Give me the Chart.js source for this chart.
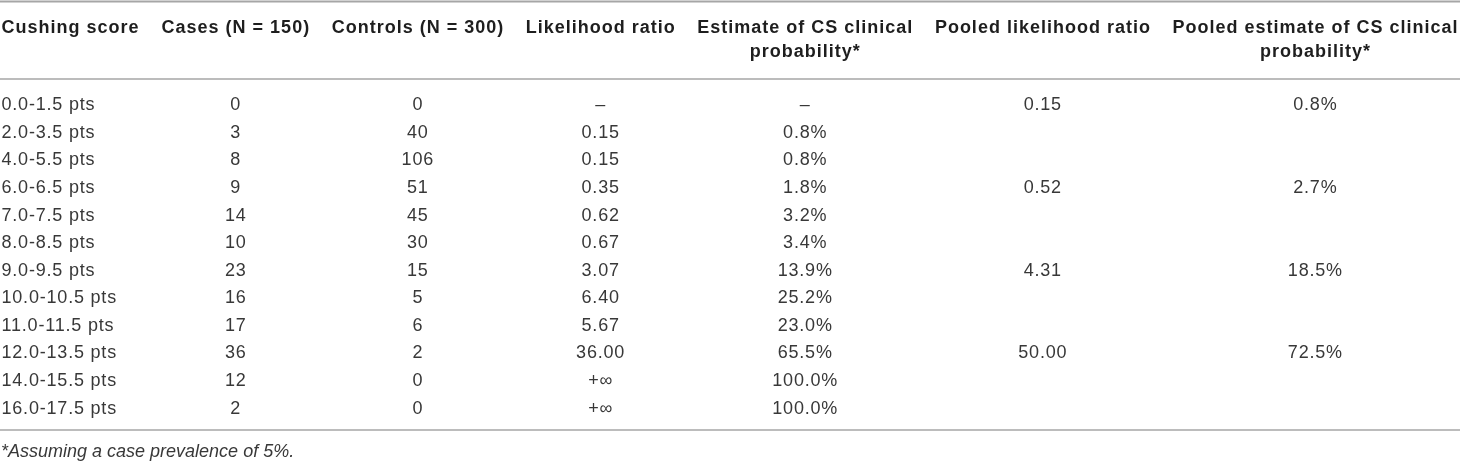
<!DOCTYPE html>
<html>
<head>
<meta charset="utf-8">
<title>Cushing score likelihood ratios</title>
<script src="https://cdn.jsdelivr.net/npm/chart.js@4.4.1/dist/chart.umd.min.js"></script>
<style>
  html, body { margin: 0; padding: 0; background: #ffffff; }
  canvas { display: block; }
</style>
</head>
<body>
<canvas id="table" width="1460" height="461"></canvas>
<script>
// Table data, one array per column
const scores = ["0.0-1.5 pts", "2.0-3.5 pts", "4.0-5.5 pts", "6.0-6.5 pts", "7.0-7.5 pts", "8.0-8.5 pts",
  "9.0-9.5 pts", "10.0-10.5 pts", "11.0-11.5 pts", "12.0-13.5 pts", "14.0-15.5 pts", "16.0-17.5 pts"];
const cases = [0, 3, 8, 9, 14, 10, 23, 16, 17, 36, 12, 2];
const controls = [0, 40, 106, 51, 45, 30, 15, 5, 6, 2, 0, 0];
const likelihoodRatio = [null, 0.15, 0.15, 0.35, 0.62, 0.67, 3.07, 6.40, 5.67, 36.00, Infinity, Infinity];
const estimate = [null, 0.8, 0.8, 1.8, 3.2, 3.4, 13.9, 25.2, 23.0, 65.5, 100.0, 100.0];
const pooledLikelihoodRatio = [0.15, null, null, 0.52, null, null, 4.31, null, null, 50.00, null, null];
const pooledEstimate = [0.8, null, null, 2.7, null, null, 18.5, null, null, 72.5, null, null];
const headers = [
  ["Cushing score"],
  ["Cases (N = 150)"],
  ["Controls (N = 300)"],
  ["Likelihood ratio"],
  ["Estimate of CS clinical", "probability*"],
  ["Pooled likelihood ratio"],
  ["Pooled estimate of CS clinical", "probability*"],
];
const footnote = "*Assuming a case prevalence of 5%.";

// Formatting
const fmtText = (v) => v;
const fmtCount = (v) => String(v);
const fmtRatio = (v) => (v === null ? "\u2013" : v === Infinity ? "+\u221e" : v.toFixed(2));
const fmtPct = (v) => (v === null ? "\u2013" : v.toFixed(1) + "%");
const blankIfNull = (fmt) => (v) => (v === null ? "" : fmt(v));

const columns = [
  { values: scores, fmt: fmtText, align: "left" },
  { values: cases, fmt: fmtCount, align: "center" },
  { values: controls, fmt: fmtCount, align: "center" },
  { values: likelihoodRatio, fmt: fmtRatio, align: "center" },
  { values: estimate, fmt: fmtPct, align: "center" },
  { values: pooledLikelihoodRatio, fmt: blankIfNull(fmtRatio), align: "center" },
  { values: pooledEstimate, fmt: blankIfNull(fmtPct), align: "center" },
];

// Styles
const FAMILY = '"Liberation Sans", Arial, Helvetica, sans-serif';
const headFont = `bold 18px ${FAMILY}`;
const cellFont = `18px ${FAMILY}`;
const noteFont = `italic 18px ${FAMILY}`;
const headSpacing = 1; // letter spacing, px
const cellSpacing = 0.8;
const capHalf = 6.4; // half cap height at 18px
const ruleColor = "#a6a6a6";
const canvas = document.getElementById("table");

// Column widths like an auto table: widest text, spare room shared as gaps
const measureCtx = document.createElement("canvas").getContext("2d");
const textWidth = (text, font, spacing = 0) => {
  measureCtx.font = font;
  return measureCtx.measureText(text).width + spacing * text.length;
};
const colWidths = columns.map((col, c) => {
  const head = Math.max(...headers[c].map((t) => textWidth(t, headFont, headSpacing)));
  const cells = Math.max(...col.values.map((v) => textWidth(col.fmt(v), cellFont, cellSpacing)));
  return Math.max(head, cells);
});
const tableLeft = 1.5;
const tableRight = canvas.width - 2;
const gap = (tableRight - tableLeft - colWidths.reduce((a, b) => a + b, 0)) / (columns.length - 1);
const colStarts = [];
colWidths.reduce((x, w) => { colStarts.push(x); return x + w + gap; }, tableLeft);
const colAnchor = columns.map((col, c) => (col.align === "left" ? colStarts[c] : colStarts[c] + colWidths[c] / 2));

// Draws the rules, header, cells and footnote from the scale positions
const tablePlugin = {
  id: "tableText",
  afterDatasetsDraw(chart) {
    const ctx = chart.ctx;
    const area = chart.chartArea;
    ctx.save();

    const rule = (y, w) => {
      ctx.strokeStyle = ruleColor;
      ctx.lineWidth = w;
      ctx.beginPath();
      ctx.moveTo(0, y);
      ctx.lineTo(chart.width, y);
      ctx.stroke();
    };
    rule(area.top - 88.5, 2);
    rule(area.top - 11, 1.5);
    rule(area.bottom + 9, 1.5);

    // spaced text leaves a trailing gap, so centred text is nudged by half of it
    const nudge = (c, spacing) => (columns[c].align === "left" ? 0 : spacing / 2);

    // header
    ctx.font = headFont;
    ctx.fillStyle = "#1e1e1e";
    ctx.textBaseline = "alphabetic";
    ctx.letterSpacing = headSpacing + "px";
    headers.forEach((lines, c) => {
      ctx.textAlign = columns[c].align;
      lines.forEach((line, i) => ctx.fillText(line, colAnchor[c] + nudge(c, headSpacing), area.top - 57 + i * 24));
    });

    // cells
    ctx.font = cellFont;
    ctx.fillStyle = "#383838";
    ctx.letterSpacing = cellSpacing + "px";
    chart.data.datasets.forEach((ds, c) => {
      ctx.textAlign = columns[c].align;
      chart.getDatasetMeta(c).data.forEach((pt, r) => {
        ctx.fillText(ds.data[r].text, pt.x + nudge(c, cellSpacing), pt.y + capHalf);
      });
    });
    ctx.letterSpacing = "0px";

    // footnote
    ctx.font = noteFont;
    ctx.textAlign = "left";
    ctx.fillText(footnote, tableLeft - 0.5, area.bottom + 36);
    ctx.restore();
  },
};

const tableChart = new Chart(canvas, {
  type: "scatter",
  data: {
    datasets: columns.map((col, c) => ({
      label: headers[c].join(" "),
      data: col.values.map((v, r) => ({ x: colAnchor[c], y: scores[r], text: col.fmt(v) })),
      pointRadius: 0,
      pointHoverRadius: 0,
      borderWidth: 0,
    })),
  },
  options: {
    responsive: false,
    animation: false,
    events: [],
    layout: { autoPadding: false, padding: { top: 90, bottom: 40, left: 0, right: 0 } },
    plugins: { legend: { display: false }, tooltip: { enabled: false } },
    scales: {
      x: { type: "linear", min: 0, max: canvas.width, display: false },
      y: { type: "category", labels: scores, offset: true, display: false },
    },
  },
  plugins: [tablePlugin],
});
</script>
</body>
</html>
